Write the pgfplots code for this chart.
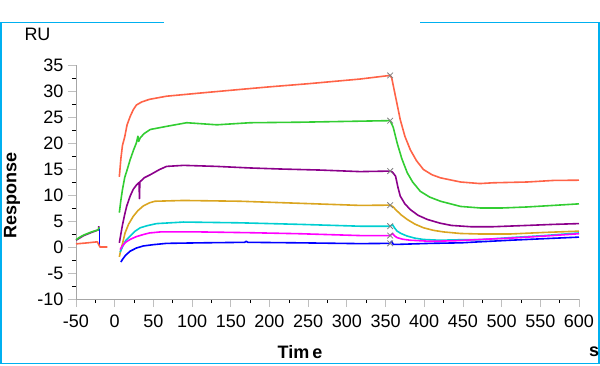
\documentclass[border=0pt]{standalone}
\usepackage{fontspec}
\setmainfont{Liberation Sans}
\usepackage{pgfplots}
\pgfplotsset{compat=1.18}
\definecolor{cRed}{RGB}{255,99,71}
\definecolor{cGreen}{RGB}{50,205,50}
\definecolor{cPurple}{RGB}{139,0,139}
\definecolor{cOrange}{RGB}{218,165,32}
\definecolor{cCyan}{RGB}{0,206,209}
\definecolor{cMagenta}{RGB}{255,0,255}
\definecolor{cBlue}{RGB}{0,0,255}
\definecolor{cFrame}{RGB}{0,176,240}
\begin{document}
\begin{tikzpicture}
\useasboundingbox (0pt,0pt) rectangle (600pt,365pt);
\draw[cFrame,line width=1.5pt] (164pt,342.7pt) -- (0.75pt,342.7pt) -- (0.75pt,1.5pt) -- (599pt,1.5pt) -- (599pt,342.7pt) -- (420pt,342.7pt);
\begin{axis}[
  at={(76pt,66pt)}, anchor=south west,
  scale only axis, width=503pt, height=234pt,
  xmin=-50, xmax=600, ymin=-10, ymax=35,
  axis lines*=left,
  axis line style={gray!70, line width=0.8pt},
  xtick={-50,0,...,600}, ytick={-10,-5,...,35},
  minor x tick num=1, minor y tick num=1,
  tick align=outside,
  major tick length=8pt, minor tick length=4pt,
  every major tick/.append style={gray!50, line width=0.8pt},
  every minor tick/.append style={black, line width=0.6pt},
  /pgf/number format/assume math mode=true,
  tick label style={font=\fontsize{18}{18}\selectfont, black},
  xticklabel style={yshift=-4pt},
  yticklabel style={xshift=-1pt},
  clip=false,
  every axis plot/.append style={line width=1.6pt, line join=round},
]
% pre-injection segments
\addplot[cPurple] coordinates {(-50,1.3) (-40,2.2) (-30,2.8) (-21,3.3) (-20.5,4.0)};
\addplot[cGreen] coordinates {(-50,1.4) (-45,1.9) (-40,2.3) (-30,2.9) (-21,3.3) (-20,3.8)};
\addplot[cBlue] coordinates {(-19.6,3.5) (-19.6,0.2)};
\addplot[cRed] coordinates {(-50,0.6) (-35,0.8) (-22.4,1.0) (-19,0.0) (-9.5,0.0)};
% red
\addplot[cRed] coordinates {(6,13.5) (8,17) (10,19.5) (13,21.2) (16,23.5) (20,25.1) (24,26.4) (28,27.3) (35,27.9) (45,28.4) (67,29.0) (110,29.6) (162,30.3) (200,30.8) (250,31.4) (317,32.3) (356,33.0)
 (358,32.5) (362,29.6) (369,24.5) (375,21.3) (382,18.7) (390,16.6) (399,14.9) (410,13.9) (421,13.3) (447,12.5) (472,12.2) (489,12.35) (533,12.5) (567,12.8) (600,12.85)};
% green
\addplot[cGreen] coordinates {(6,6.6) (8,9) (10,11) (13,13.4) (16,14.8) (20,16.8) (24.5,18.7) (28,20) (30,21.3) (31,20.3) (33,21.0) (38,21.8) (46,22.6) (67,23.2) (93,23.9) (132,23.5) (175,23.9) (240,24.0) (317,24.2) (356,24.3)
 (360,23.0) (365,20.0) (371,17) (378,14.3) (385,12.5) (395,10.7) (407,9.6) (421,8.8) (447,7.8) (473,7.5) (500,7.5) (533,7.7) (567,8.0) (600,8.3)};
% purple
\addplot[cPurple] coordinates {(6,0.8) (8,2.5) (10,4.2) (13,6.3) (15.6,7.9) (20,9.8) (24,11.1) (28,11.9) (31.5,12.4) (32,9.3) (32.5,12.5) (38,13.3) (46,13.9) (58,14.9) (67,15.5) (89,15.7) (132,15.5) (175,15.2) (214,15.0) (265,14.8) (317,14.5) (356,14.6)
 (359,14.4) (363,13.6) (366,11.5) (369,9.8) (375,8.3) (382,7.2) (392,6.1) (404,5.3) (420,4.6) (435,4.15) (460,3.9) (489,3.9) (533,4.15) (567,4.35) (600,4.5)};
% orange
\addplot[cOrange] coordinates {(6,-1.9) (8,-0.5) (10,0.6) (13.4,2.7) (18,4.4) (24,5.9) (30,7.0) (37,7.9) (45,8.5) (52,8.8) (89,8.95) (162,8.8) (240,8.4) (317,8.0) (356,8.05)
 (360,7.7) (363,7.2) (370,6.2) (378,5.3) (388,4.4) (399,3.7) (412,3.2) (425,2.9) (447,2.6) (472,2.5) (511,2.5) (555,2.8) (600,3.05)};
% cyan
\addplot[cCyan] coordinates {(7,-1.0) (10,0.0) (14,1.2) (20,2.1) (26,3.0) (33,3.7) (42,4.1) (54,4.5) (89,4.8) (162,4.65) (240,4.35) (317,4.0) (356,4.0) (359,4.3)
 (362,3.6) (365,3.05) (370,2.6) (378,2.1) (388,1.7) (399,1.45) (420,1.3) (447,1.4) (472,1.4) (511,1.8) (555,2.2) (600,2.7)};
% magenta
\addplot[cMagenta] coordinates {(7,-0.5) (10,0.2) (14,0.9) (20,1.46) (28,2.0) (37,2.4) (45,2.7) (59,2.9) (110,2.9) (175,2.75) (240,2.55) (317,2.2) (356,2.2) (359,2.6)
 (362,2.1) (365,1.8) (372,1.5) (382,1.3) (408,1.1) (440,1.2) (472,1.45) (511,1.7) (555,2.1) (600,2.55)};
% blue
\addplot[cBlue] coordinates {(8,-2.9) (10,-2.4) (14,-1.6) (20,-0.8) (28,-0.2) (37,0.2) (50,0.45) (67,0.7) (110,0.8) (168,0.9) (170,1.1) (172,0.9) (240,0.8) (317,0.65) (356,0.7) (358,1.1)
 (360,0.5) (365,0.5) (408,0.7) (447,0.8) (472,1.0) (511,1.3) (555,1.6) (600,1.9)};
% report point markers
\addplot[only marks, mark=x, mark size=4pt, gray, line width=0.8pt] coordinates {(356,33.0) (356,24.3) (356,14.6) (356,8.05) (356,4.0) (356,2.2) (356,0.7)};
\end{axis}
\node[font=\fontsize{18}{18}\selectfont] at (37.5pt,331pt) {RU};
\node[font=\bfseries\fontsize{18}{18}\selectfont, rotate=90] at (12pt,170pt) {Response};
\node[font=\bfseries\fontsize{18}{18}\selectfont] at (300pt,13pt) {Tim\,e};
\node[font=\bfseries\fontsize{18}{18}\selectfont] at (594pt,13pt) {s};
\end{tikzpicture}
\end{document}
